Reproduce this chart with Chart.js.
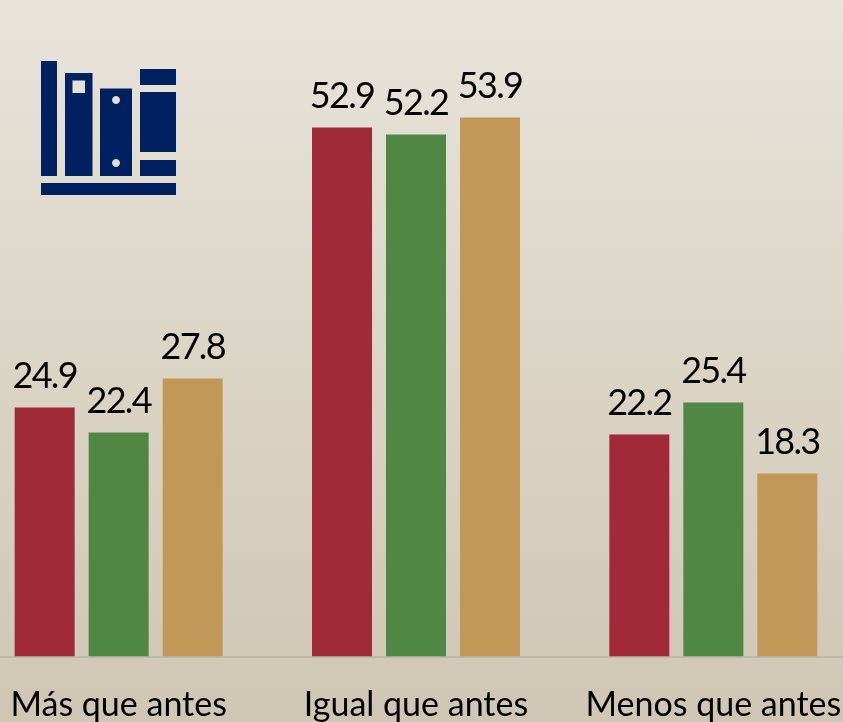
<!DOCTYPE html>
<html><head><meta charset="utf-8">
<script src="https://cdn.jsdelivr.net/npm/chart.js@4"></script>
<style>
html,body{margin:0;padding:0;width:843px;height:722px;overflow:hidden;background:linear-gradient(180deg,#e8e4da 0%,#cfc6b3 100%);}
#w{position:absolute;left:-30px;top:0;width:892px;height:722px;}
#icon{position:absolute;left:0;top:0;}
</style></head><body>
<div id="w"><canvas id="c"></canvas></div>
<svg id="icon" width="843" height="722" fill="#00205f">
<rect x="41" y="61" width="16" height="115"/>
<path fill-rule="evenodd" d="M65 73h27.5v103H65z M72.500 80.500v12.500h12.500v-12.500z"/>
<path fill-rule="evenodd" d="M100 88.500h32v87.500h-32z M116 96a4 4 0 1 0 .01 0z M116 159a4 4 0 1 0 .01 0z"/>
<rect x="140" y="69" width="36" height="16"/>
<rect x="140" y="92" width="36" height="60"/>
<rect x="140" y="160" width="36" height="16"/>
<rect x="41" y="183" width="135" height="12"/>
</svg>
<script>
const categories=["Más que antes","Igual que antes","Menos que antes"];
const serieA=[24.9,52.9,22.2];
const serieB=[22.4,52.2,25.4];
const serieC=[27.8,53.9,18.3];
const FONT='Lato, sans-serif';
const valueLabels={id:'valueLabels',afterDatasetsDraw(chart){
  const ctx=chart.ctx;ctx.save();ctx.fillStyle='#000';ctx.font='36px '+FONT;ctx.letterSpacing='-1.7px';ctx.textAlign='center';ctx.textBaseline='alphabetic';
  chart.data.datasets.forEach((d,i)=>{chart.getDatasetMeta(i).data.forEach((b,j)=>{ctx.fillText(d.data[j].toFixed(1),b.x,b.y-20);});});
  ctx.restore();}};
new Chart(document.getElementById('c'),{type:'bar',
 data:{labels:categories,datasets:[
  {label:'A',data:serieA,backgroundColor:'#a12a38'},
  {label:'B',data:serieB,backgroundColor:'#508745'},
  {label:'C',data:serieC,backgroundColor:'#c29859'}]},
 options:{responsive:true,maintainAspectRatio:false,animation:false,
  layout:{padding:0},
  plugins:{legend:{display:false},title:{display:false},tooltip:{enabled:false}},
  categoryPercentage:222/297.33,barPercentage:60/74,
  scales:{
   x:{grid:{display:false,drawTicks:false},border:{color:'#bdb7a9',width:2},
      afterFit:s=>{s.height=65.5;s.paddingLeft=0;s.paddingRight=0;},
      ticks:{color:'#000',padding:28,maxRotation:0,autoSkip:false,font:{family:FONT,size:34}}},
   y:{display:false,min:0,max:65.65}
  }},
 plugins:[valueLabels]});
</script>
</body></html>
